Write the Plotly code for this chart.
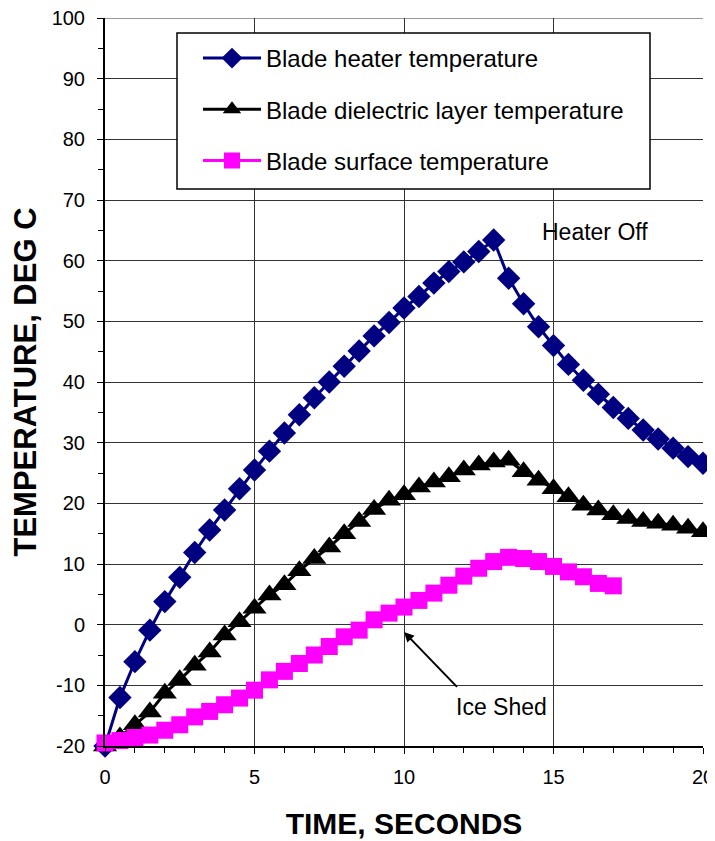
import plotly.graph_objects as go

time_s = [0, 0.5, 1, 1.5, 2, 2.5, 3, 3.5, 4, 4.5, 5, 5.5, 6, 6.5, 7, 7.5, 8, 8.5, 9, 9.5,
          10, 10.5, 11, 11.5, 12, 12.5, 13, 13.5, 14, 14.5, 15, 15.5, 16, 16.5, 17, 17.5,
          18, 18.5, 19, 19.5, 20]

heater_temp = [-20.0, -12.0, -6.1, -0.9, 3.8, 7.8, 11.9, 15.6, 18.9, 22.4,
               25.5, 28.6, 31.6, 34.6, 37.4, 40.0, 42.6, 45.1, 47.6, 49.8,
               52.2, 54.1, 56.3, 58.2, 59.8, 61.5, 63.4, 57.1, 52.9, 49.1,
               46.0, 42.9, 40.3, 38.0, 35.8, 34.0, 32.1, 30.6, 29.1, 27.7, 26.6]

dielectric_temp = [-20.0, -18.5, -16.5, -14.4, -11.3, -9.1, -6.7, -4.5, -1.7, 0.5,
                   2.7, 4.9, 6.6, 8.9, 10.9, 12.8, 15.0, 17.0, 19.0, 20.5,
                   21.4, 22.7, 23.5, 24.4, 25.5, 26.3, 26.8, 27.1, 25.2, 23.8,
                   22.4, 21.1, 19.7, 18.9, 18.1, 17.5, 17.0, 16.7, 16.4, 15.9, 15.3]

surface_time = time_s[:35]
surface_temp = [-19.5, -19.1, -18.6, -18.2, -17.4, -16.5, -15.2, -14.3, -13.2, -12.1,
                -10.8, -9.1, -7.7, -6.4, -5.0, -3.6, -2.0, -0.9, 0.8, 1.9,
                2.9, 4.0, 5.2, 6.5, 8.0, 9.3, 10.4, 11.1, 10.9, 10.4,
                9.6, 8.7, 7.9, 6.8, 6.4]

series_names = ["Blade heater temperature",
                "Blade dielectric layer temperature",
                "Blade surface temperature"]

x_ticks = [0, 5, 10, 15, 20]
y_ticks = [-20, -10, 0, 10, 20, 30, 40, 50, 60, 70, 80, 90, 100]

FONT = "Liberation Sans, Arial, sans-serif"

fig = go.Figure()
fig.add_trace(go.Scatter(
    x=time_s, y=heater_temp, name=series_names[0], legendgroup="a",
    mode="lines+markers", cliponaxis=False,
    line=dict(color="#000080", width=3),
    marker=dict(symbol="diamond", size=18, color="#000080")))
fig.add_trace(go.Scatter(
    x=time_s, y=dielectric_temp, name=series_names[1], legendgroup="b",
    mode="lines+markers", cliponaxis=False,
    line=dict(color="#000000", width=3),
    marker=dict(symbol="triangle-up", size=21, color="#000000")))
fig.add_trace(go.Scatter(
    x=surface_time, y=surface_temp, name=series_names[2], legendgroup="c",
    mode="lines+markers", cliponaxis=False,
    line=dict(color="#FF00FF", width=3),
    marker=dict(symbol="square", size=17, color="#FF00FF")))

# page body has an 8px margin; figure is offset by (8, 8)
OFF = 8
W, H = 715 - OFF, 841 - OFF
L, T = 105 - OFF, 18 - OFF
R = W - (703 - OFF)
B = H - (746 - OFF)
pw, ph = W - L - R, H - T - B

def px(xp):
    return (xp - OFF - L) / pw

def py(yp):
    return 1 - (yp - OFF - T) / ph

fig.update_layout(
    width=W, height=H,
    margin=dict(l=L, r=R, t=T, b=B, pad=0, autoexpand=False),
    paper_bgcolor="white", plot_bgcolor="white",
    font=dict(family=FONT, color="black", size=20),
    showlegend=True,
    legend=dict(
        x=px(198), y=py(36), xanchor="left", yanchor="top",
        bgcolor="rgba(0,0,0,0)", borderwidth=0,
        font=dict(family=FONT, size=24, color="black"),
        itemwidth=58, tracegroupgap=17, traceorder="grouped",
    ),
    xaxis=dict(
        range=[0, 20], tickvals=x_ticks, ticktext=[str(v) for v in x_ticks],
        automargin=False, ticklabeloverflow="allow",
        showline=True, linecolor="black", linewidth=2,
        showgrid=True, gridcolor="#333333", gridwidth=1,
        zeroline=False,
        ticks="outside", ticklen=6, tickwidth=1, tickcolor="black",
        ticklabelstandoff=6,
        minor=dict(dtick=1, tick0=0, ticks="outside", ticklen=5, tickcolor="black", showgrid=False),
        tickfont=dict(family=FONT, size=20, color="black"),
        title=dict(text="<b>TIME, SECONDS</b>", font=dict(family=FONT, size=30, color="black"), standoff=26),
    ),
    yaxis=dict(
        range=[-20, 100], tickvals=y_ticks, ticktext=[str(v) for v in y_ticks],
        automargin=False, ticklabeloverflow="allow",
        showline=True, linecolor="black", linewidth=2,
        showgrid=True, gridcolor="#333333", gridwidth=1,
        zeroline=False,
        ticks="outside", ticklen=6, tickwidth=1, tickcolor="black",
        ticklabelstandoff=8,
        minor=dict(dtick=5, tick0=0, ticks="outside", ticklen=5, tickcolor="black", showgrid=False),
        tickfont=dict(family=FONT, size=20, color="black"),
        title=dict(text="<b>TEMPERATURE, DEG C</b>", font=dict(family=FONT, size=31, color="black"), standoff=12),
    ),
    xaxis2=dict(
        overlaying="x", anchor="y", range=[0, 20], automargin=False,
        showticklabels=False, showgrid=False, showline=False, zeroline=False,
        tickvals=[], ticks="",
        minor=dict(dtick=1, tick0=0, ticks="inside", ticklen=4, tickcolor="black", showgrid=False),
    ),
    yaxis2=dict(
        overlaying="y", anchor="x", range=[-20, 100], automargin=False,
        showticklabels=False, showgrid=False, showline=False, zeroline=False,
        tickvals=[], ticks="",
        minor=dict(dtick=5, tick0=0, ticks="inside", ticklen=4, tickcolor="black", showgrid=False),
    ),
    shapes=[
        dict(type="line", xref="paper", yref="y", x0=0, x1=1, y0=100, y1=100,
             line=dict(color="#333333", width=1), layer="below"),
        dict(type="rect", xref="paper", yref="paper",
             x0=px(177), x1=px(650), y0=py(189), y1=py(33),
             line=dict(color="black", width=1.5), fillcolor="white", layer="above"),
    ],
    annotations=[
        dict(x=16.4, y=64.8, xref="x", yref="y", text="Heater Off", showarrow=False,
             font=dict(family=FONT, size=23, color="black")),
        dict(x=13.27, y=-13.5, xref="x", yref="y", text="Ice Shed", showarrow=False,
             font=dict(family=FONT, size=23, color="black")),
        dict(x=10.0, y=-1.2, xref="x", yref="y", text="", showarrow=True,
             axref="x", ayref="y", ax=11.82, ay=-10.5,
             arrowhead=2, arrowsize=1, arrowwidth=2, arrowcolor="black", standoff=0),
    ],
)

fig.write_html("out.html")
